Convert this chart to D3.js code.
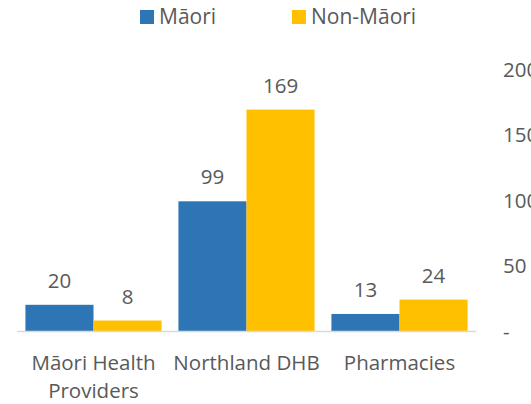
<!DOCTYPE html>
<html>
<head>
<meta charset="utf-8">
<script src="https://cdn.jsdelivr.net/npm/d3@7"></script>
<style>
  body { margin: 0; background: #fff; }
  text { font-family: "Open Sans", sans-serif; fill: #595959; }
</style>
</head>
<body>
<svg id="chart" width="531" height="404"></svg>
<script>
// data
let categories = ["Māori Health Providers", "Northland DHB", "Pharmacies"];
let seriesNames = ["Māori", "Non-Māori"];
let maori = [20, 99, 13];
let nonMaori = [8, 169, 24];
let yTicks = [0, 50, 100, 150, 200];
let colors = ["#2E75B6", "#FFC000"];

let svg = d3.select("#chart");
let left = 17, right = 476, baseY = 331, topY = 69;
let fs = 20.5;

let x = d3.scaleBand().domain(categories).range([left, right]).paddingInner(0.11).paddingOuter(0.055);
let xs = d3.scaleBand().domain(seriesNames).range([0, x.bandwidth()]);
let y = d3.scaleLinear().domain([0, 200]).range([baseY, topY]);

let rows = categories.map((c, i) => ({ cat: c, vals: [maori[i], nonMaori[i]] }));

//? bars
let groups = svg.append("g").selectAll("g")
    .data(rows)
    .enter()
    .append("g")
    .attr("transform", d => "translate(" + x(d.cat) + ",0)");

groups.selectAll("rect")
    .data(d => d.vals.map((v, j) => ({ s: seriesNames[j], v: v, j: j })))
    .enter()
    .append("rect")
    .attr("x", d => xs(d.s))
    .attr("width", xs.bandwidth())
    .attr("y", d => y(d.v))
    .attr("height", d => baseY - y(d.v))
    .attr("fill", d => colors[d.j]);

groups.selectAll("text.val")
    .data(d => d.vals.map((v, j) => ({ s: seriesNames[j], v: v })))
    .enter()
    .append("text")
    .attr("class", "val")
    .attr("x", d => xs(d.s) + xs.bandwidth() / 2)
    .attr("y", d => y(d.v) - 17)
    .attr("text-anchor", "middle")
    .attr("font-size", fs)
    .text(d => d.v);

//? baseline
svg.append("line")
    .attr("x1", left).attr("x2", right)
    .attr("y1", baseY + 0.5).attr("y2", baseY + 0.5)
    .attr("stroke", "#d9d9d9").attr("stroke-width", 1.5);

//? category labels (wrapped)
let catLines = { "Māori Health Providers": ["Māori Health", "Providers"] };
categories.forEach(c => {
    let lines = catLines[c] || [c];
    let t = svg.append("text")
        .attr("text-anchor", "middle")
        .attr("font-size", fs);
    lines.forEach((l, i) => {
        t.append("tspan")
            .attr("x", x(c) + x.bandwidth() / 2)
            .attr("y", 370 + i * 28)
            .text(l);
    });
});

//? right axis
let axis = d3.axisRight(y).tickValues(yTicks).tickSize(0)
    .tickFormat(d => d === 0 ? "-" : d);
let ag = svg.append("g").attr("transform", "translate(503,0)").call(axis);
ag.select(".domain").remove();
ag.selectAll("text").attr("x", 0).attr("dy", "0.36em")
    .attr("font-size", fs)
    .style("font-family", "'Open Sans', sans-serif").attr("fill", "#595959");

//? legend
let legX = [140, 292];
seriesNames.forEach((s, i) => {
    svg.append("rect").attr("x", legX[i]).attr("y", 10)
        .attr("width", 14).attr("height", 14).attr("fill", colors[i]);
    svg.append("text").attr("x", legX[i] + 19).attr("y", 24)
        .attr("font-size", 21).text(s);
});
</script>
</body>
</html>
